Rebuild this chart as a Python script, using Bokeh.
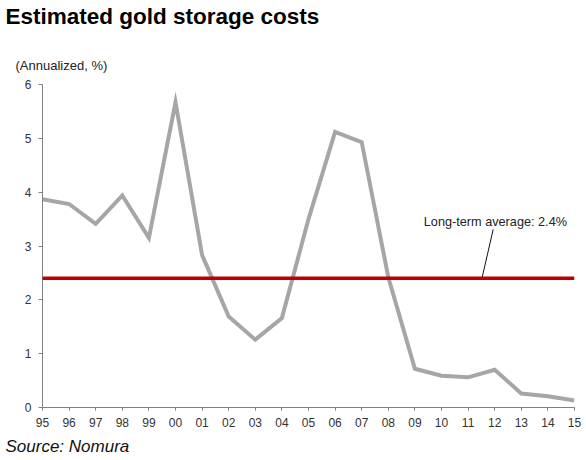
from bokeh.plotting import figure
from bokeh.models import Range1d, FixedTicker, Span, Label, Title
from bokeh.embed import file_html
from bokeh.resources import INLINE

# ---- data ----
year_labels = ["95", "96", "97", "98", "99", "00", "01", "02", "03", "04", "05",
               "06", "07", "08", "09", "10", "11", "12", "13", "14", "15"]
storage_cost = [3.87, 3.78, 3.41, 3.94, 3.15, 5.67, 2.83, 1.69, 1.26, 1.66, 3.50,
                5.12, 4.93, 2.42, 0.72, 0.59, 0.56, 0.70, 0.26, 0.21, 0.13]
long_term_avg = 2.4
y_ticks = [0, 1, 2, 3, 4, 5, 6]

x_idx = list(range(len(year_labels)))

W, H = 586, 460
BL, BR, BT, BB = 42, 12, 84, 52
FW, FH = W - BL - BR, H - BT - BB
XMAX = len(year_labels) - 1
YMAX = 6

FONT = "Liberation Sans"

p = figure(width=W, height=H, output_backend="svg", toolbar_location=None,
           x_range=Range1d(0, XMAX), y_range=Range1d(0, YMAX),
           min_border_left=BL, min_border_right=BR, min_border_top=BT, min_border_bottom=BB)
p.outline_line_color = None
p.xgrid.visible = False
p.ygrid.visible = False
p.background_fill_color = "white"
p.border_fill_color = "white"

axis_col = "#808080"
for ax in (p.xaxis[0], p.yaxis[0]):
    ax.axis_line_color = axis_col
    ax.axis_line_width = 1
    ax.major_tick_line_color = axis_col
    ax.minor_tick_line_color = None
    ax.major_tick_in = 0
    ax.major_label_text_font = FONT
    ax.major_label_text_font_size = "12px"
    ax.major_label_text_color = "#333333"

p.xaxis[0].ticker = FixedTicker(ticks=x_idx)
p.xaxis[0].major_label_overrides = {i: lab for i, lab in zip(x_idx, year_labels)}
p.xaxis[0].major_tick_out = 3
p.xaxis[0].major_label_standoff = 7

p.yaxis[0].ticker = FixedTicker(ticks=y_ticks)
p.yaxis[0].major_tick_out = 4
p.yaxis[0].major_label_standoff = 7

# series
p.line(x_idx, storage_cost, line_color="#A6A6A6", line_width=4, line_join="miter")

# long-term average
p.add_layout(Span(location=long_term_avg, dimension="width", line_color="#C00000", line_width=3.5))


def px(fx, fy):
    """figure pixel -> data coordinates"""
    return (fx - BL) * XMAX / FW, (H - BB - fy) * YMAX / FH


# annotation leader + text
lx0, ly0 = px(492.7, 229.3)
lx1, ly1 = px(481.7, 277.3)
p.segment(x0=[lx0], y0=[ly0], x1=[lx1], y1=[ly1], line_color="#111111", line_width=1)
ax_, ay_ = px(423.3, 221.7)
p.add_layout(Label(x=ax_, y=ay_, text="Long-term average: %.1f%%" % long_term_avg,
                   text_font=FONT, text_font_size="12.7px", text_color="#222222",
                   text_baseline="alphabetic", text_align="left"))

# titles (above / below panels)
p.add_layout(Title(text="\n(Annualized, %)", text_font=FONT, text_font_size="13px",
                   text_font_style="normal", text_color="#222222", align="left",
                   offset=15 - BL, standoff=24), "above")
p.add_layout(Title(text="Estimated gold storage costs", text_font=FONT, text_font_size="22.5px",
                   text_font_style="bold", text_color="#000000", align="left",
                   offset=5 - BL, standoff=0), "above")
p.add_layout(Title(text="Source: Nomura", text_font=FONT, text_font_size="17px",
                   text_font_style="italic", text_color="#111111", align="left",
                   offset=5 - BL, standoff=10), "below")

open("out.html", "w").write(file_html(p, INLINE))
